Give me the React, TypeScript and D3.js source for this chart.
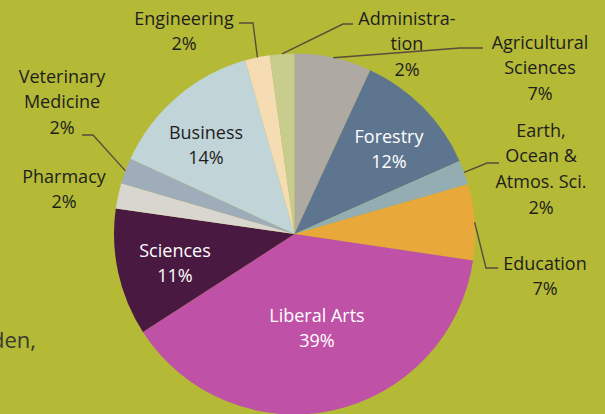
import React from 'react';
import * as d3 from 'd3';

const categories = [
  'Agricultural Sciences',
  'Forestry',
  'Earth, Ocean & Atmos. Sci.',
  'Education',
  'Liberal Arts',
  'Sciences',
  'Pharmacy',
  'Veterinary Medicine',
  'Business',
  'Engineering',
  'Administration',
];
const shares = [6.9, 11.5, 2.2, 6.8, 38.6, 11.4, 2.3, 2.3, 13.8, 2.2, 2.2];
const labelLines = [
  ['Agricultural', 'Sciences'],
  ['Forestry'],
  ['Earth,', 'Ocean &', 'Atmos. Sci.'],
  ['Education'],
  ['Liberal Arts'],
  ['Sciences'],
  ['Pharmacy'],
  ['Veterinary', 'Medicine'],
  ['Business'],
  ['Engineering'],
  ['Administra-', 'tion'],
];
const sliceColors = [
  '#aeaaa3', '#5e7590', '#93adb3', '#e9a93a', '#bf52a6', '#4a1942',
  '#d9d6cf', '#9eadb9', '#c1d4d8', '#f6dcb2', '#c8cc8c',
];

const W = 605;
const H = 414;
const cx = 294.5;
const cy = 234;
const R = 180.5;
const lineH = 25.7;

// label block anchor (centre x, first baseline), text colour, optional leader elbow/end
const layout: Record<string, { x: number; y: number; fill: string; leader?: [number, number][] }> = {
  'Agricultural Sciences': { x: 540, y: 48.5, fill: '#1e1e1e', leader: [[460, 48], [483, 48]] },
  Forestry: { x: 389, y: 142.5, fill: '#ffffff' },
  'Earth, Ocean & Atmos. Sci.': { x: 541, y: 136.5, fill: '#1e1e1e', leader: [[487, 163], [499, 163]] },
  Education: { x: 545, y: 269.5, fill: '#1e1e1e', leader: [[486, 268], [498, 268]] },
  'Liberal Arts': { x: 317, y: 321.5, fill: '#ffffff' },
  Sciences: { x: 175, y: 256.5, fill: '#ffffff' },
  Pharmacy: { x: 64, y: 182.5, fill: '#1e1e1e' },
  'Veterinary Medicine': { x: 62, y: 82.5, fill: '#1e1e1e', leader: [[93, 135], [82, 135]] },
  Business: { x: 206, y: 138.5, fill: '#1e1e1e' },
  Engineering: { x: 184, y: 24.5, fill: '#1e1e1e', leader: [[253, 23], [239, 23]] },
  Administration: { x: 407, y: 24.5, fill: '#1e1e1e', leader: [[343, 24], [353, 24]] },
};

const App: React.FC = () => {
  const data = categories.map((name, i) => ({ name, value: shares[i], lines: labelLines[i], color: sliceColors[i] }));
  const pie = d3.pie<typeof data[number]>().sort(null).value((d) => d.value);
  const arcs = pie(data);
  const arc = d3.arc<d3.PieArcDatum<typeof data[number]>>().innerRadius(0).outerRadius(R);
  const line = d3.line();

  return (
    <svg
      width={W}
      height={H}
      style={{ position: 'absolute', left: 0, top: 0, display: 'block' }}
      fontFamily="'Open Sans', sans-serif"
    >
      <rect width={W} height={H} fill="#b4b936" />
      <text x={36} y={348} textAnchor="end" fontSize={22} fill="#3a3a32">
        den,
      </text>
      <g transform={`translate(${cx},${cy})`}>
        {arcs.map((a) => (
          <path key={a.data.name} d={arc(a) || ''} fill={a.data.color} />
        ))}
      </g>
      {arcs.map((a) => {
        const L = layout[a.data.name];
        if (!L.leader) return null;
        const mid = (a.startAngle + a.endAngle) / 2;
        const edge: [number, number] = [cx + R * Math.sin(mid), cy - R * Math.cos(mid)];
        return (
          <path
            key={'l' + a.data.name}
            d={line([edge, ...L.leader]) || ''}
            fill="none"
            stroke="#5a4b3c"
            strokeWidth={1.4}
          />
        );
      })}
      {arcs.map((a) => {
        const L = layout[a.data.name];
        const pct = `${Math.round(a.data.value)}%`;
        const rows = [...a.data.lines, pct];
        return (
          <text key={'t' + a.data.name} textAnchor="middle" fontSize={18} fill={L.fill}>
            {rows.map((r, j) => (
              <tspan key={j} x={L.x} y={L.y + j * lineH}>
                {r}
              </tspan>
            ))}
          </text>
        );
      })}
    </svg>
  );
};

export default App;
